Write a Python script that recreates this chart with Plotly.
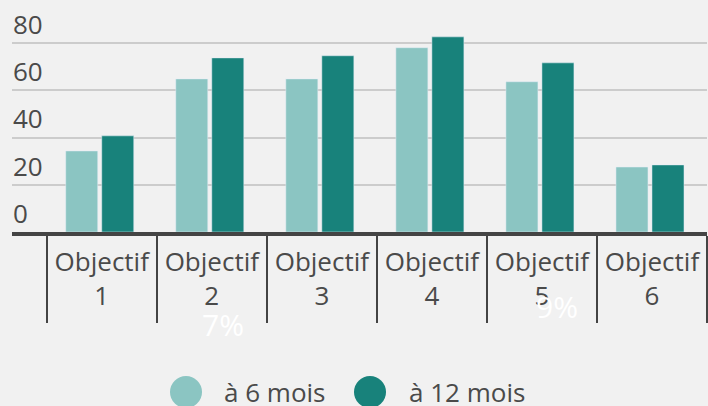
import plotly.graph_objects as go

categories = ["Objectif<br>1", "Objectif<br>2", "Objectif<br>3", "Objectif<br>4", "Objectif<br>5", "Objectif<br>6"]
series_names = ["à 6 mois", "à 12 mois"]
values_6 = [34.3, 64.8, 64.8, 78.0, 63.6, 27.5]
values_12 = [40.7, 73.7, 74.6, 82.6, 71.6, 28.4]
y_ticks = [0, 20, 40, 60, 80]
stray_labels = ["7%", "9%"]

LIGHT = "#8bc5c2"
DARK = "#18827b"
TEXT = "#4a4a4a"
BG = "#f1f1f1"
FONT = "Open Sans"

W, H = 708, 406
ML, MR, MT = 12, 1, 10
ZERO_Y = 232
MB = H - ZERO_Y
plot_w = W - ML - MR
plot_h = ZERO_Y - MT
cat_px = 110.0
px_per_unit = 189 / 80.0

fig = go.Figure()
fig.add_trace(go.Bar(x=categories, y=values_6, name=series_names[0], marker_color=LIGHT,
                     width=32 / cat_px, offset=-36 / cat_px, showlegend=False))
fig.add_trace(go.Bar(x=categories, y=values_12, name=series_names[1], marker_color=DARK,
                     width=32 / cat_px, offset=0.0, showlegend=False))

left_units = (46.7 - ML) / cat_px
fig.update_layout(
    width=W, height=H,
    margin=dict(l=ML, r=MR, t=MT, b=MB, pad=0),
    paper_bgcolor=BG, plot_bgcolor=BG,
    font=dict(family=FONT, size=26, color=TEXT),
    showlegend=False,
    xaxis=dict(
        type="category",
        range=[-0.5 - left_units, 5.5],
        tickson="boundaries",
        ticks="outside", ticklen=87, tickwidth=2, tickcolor="#444444",
        showline=True, linewidth=4, linecolor="#444444",
        showgrid=False,
        tickfont=dict(family=FONT, size=26, color=TEXT),
        ticklabelstandoff=4,
        fixedrange=True,
    ),
    yaxis=dict(
        range=[0, plot_h / px_per_unit],
        tickvals=y_ticks,
        ticktext=[str(v) for v in y_ticks],
        ticks="",
        ticklabelposition="inside top",
        ticklabeloverflow="allow",
        ticklabelstandoff=-2,
        tickfont=dict(family=FONT, size=26, color=TEXT),
        showgrid=True, gridcolor="#cccccc", gridwidth=2,
        zeroline=False, showline=False,
        fixedrange=True,
    ),
)

# legend drawn as circles + text (large round markers)
legend_items = [(186, 222, LIGHT, series_names[0]), (370, 407, DARK, series_names[1])]
leg_y = 392
for cx, tx, col, name in legend_items:
    fig.add_shape(type="circle", xref="paper", yref="paper",
                  xsizemode="pixel", ysizemode="pixel",
                  xanchor=(cx - ML) / plot_w, yanchor=(ZERO_Y - leg_y) / plot_h,
                  x0=-16, x1=16, y0=-16, y1=16,
                  fillcolor=col, line=dict(width=0))
    fig.add_annotation(text=name, xref="paper", yref="paper",
                       x=(tx - ML) / plot_w, y=(ZERO_Y - leg_y) / plot_h,
                       xanchor="left", yanchor="middle", showarrow=False,
                       font=dict(family=FONT, size=26, color=TEXT))

# stray white labels visible in the reference
for (sx, sy), lab in zip([(223, 324), (557, 306)], stray_labels):
    fig.add_annotation(text=lab, xref="paper", yref="paper",
                       x=(sx - ML) / plot_w, y=(ZERO_Y - sy) / plot_h,
                       xanchor="center", yanchor="middle", showarrow=False,
                       font=dict(family=FONT, size=30, color="#ffffff"))

fig.write_html("out.html", config={"displayModeBar": False},
               post_script="document.body.style.margin='0';document.body.style.padding='0';")
